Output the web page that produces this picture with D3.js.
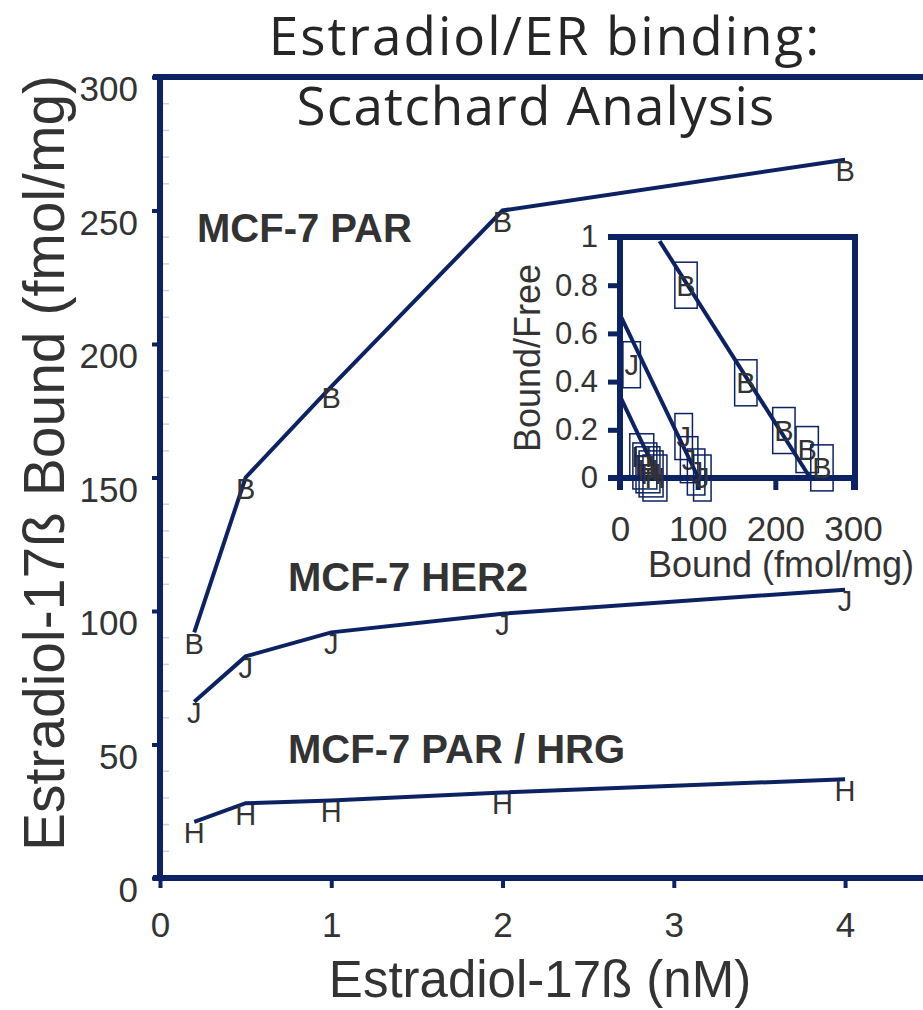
<!DOCTYPE html>
<meta charset="utf-8">
<style>
  body { margin: 0; background: #fff; }
  svg text { font-family: "Liberation Sans", Arial, sans-serif; fill: #333; }
</style>
<body></body>
<script src="https://cdnjs.cloudflare.com/ajax/libs/d3/7.8.5/d3.min.js"></script>
<script>
// main plot: bound vs concentration
const conc = [0.2, 0.5, 1, 2, 4];
const parBound = [92, 150, 184, 250, 269];
const her2Bound = [66, 83, 92, 99, 108];
const hrgBound = [21, 28, 29, 32, 37];
const yTicks = [0, 50, 100, 150, 200, 250, 300];
const xTicks = [0, 1, 2, 3, 4];

// inset: scatchard points (bound, bound/free)
const parScatX = [85, 162, 211, 241, 260];
const parScatY = [0.80, 0.395, 0.197, 0.118, 0.042];
const her2ScatX = [15, 82, 89, 98, 106];
const her2ScatY = [0.47, 0.172, 0.076, 0.025, 0.0];
const hrgScatX = [28, 32, 36, 40, 45];
const hrgScatY = [0.088, 0.05, 0.034, 0.017, 0.0];
// fitted lines, two end points each
const parFitX = [51, 245], parFitY = [0.983, 0.0];
const her2FitX = [0, 101], her2FitY = [0.678, 0.0];
const hrgFitX = [0, 50], hrgFitY = [0.34, 0.0];
const insetXTicks = [0, 100, 200, 300];
const insetYTicks = [0, 0.2, 0.4, 0.6, 0.8, 1];

const navy = "#0c2262";
const width = 923, height = 1010;

const svg = d3.select("body").append("svg")
    .attr("width", width)
    .attr("height", height);

const x = d3.scaleLinear().domain([0, 4.455]).range([160, 923]);
const y = d3.scaleLinear().domain([0, 300]).range([878, 77]);

// title
svg.append("text")
    .attr("x", 545).attr("y", 55)
    .attr("text-anchor", "middle")
    .style("font-family", "'Open Sans', Lato, sans-serif")
    .style("fill", "#262626")
    .style("letter-spacing", "2px")
    .attr("font-size", 53)
    .text("Estradiol/ER binding:");
svg.append("text")
    .attr("x", 536).attr("y", 125)
    .attr("text-anchor", "middle")
    .style("font-family", "'Open Sans', Lato, sans-serif")
    .style("fill", "#262626")
    .style("letter-spacing", "1.2px")
    .attr("font-size", 53)
    .text("Scatchard Analysis");

// faint minor ticks inside the left axis
svg.append("g")
  .selectAll("line")
  .data(d3.range(10, 300, 10).filter(v => v % 50))
  .join("line")
    .attr("x1", 162).attr("x2", 169)
    .attr("y1", d => y(d)).attr("y2", d => y(d))
    .attr("stroke", "#cdd2e2").attr("stroke-width", 1.5);

// frame
const frame = svg.append("g").attr("stroke", navy).attr("stroke-width", 6).attr("fill", "none");
frame.append("line").attr("x1", x(0)).attr("x2", x(0)).attr("y1", y(300) - 3).attr("y2", y(0) + 3);
frame.append("line").attr("x1", x(0) - 7).attr("x2", width).attr("y1", y(300)).attr("y2", y(300));
frame.append("line").attr("x1", x(0) - 7).attr("x2", width).attr("y1", y(0)).attr("y2", y(0));

// y axis
const yAxis = svg.append("g")
    .attr("transform", `translate(${x(0)},0)`)
    .call(d3.axisLeft(y).tickValues(yTicks).tickSize(8).tickPadding(14));
yAxis.select(".domain").remove();
yAxis.selectAll(".tick line").attr("stroke", navy).attr("stroke-width", 4);
yAxis.selectAll(".tick text")
    .attr("font-size", 35).attr("dy", "0.68em")
    .style("font-family", "'Liberation Sans', Arial, sans-serif").style("fill", "#333");

// x axis
const xAxis = svg.append("g")
    .attr("transform", `translate(0,${y(0)})`)
    .call(d3.axisBottom(x).tickValues(xTicks).tickFormat(d3.format("d")).tickSize(10).tickPadding(24));
xAxis.select(".domain").remove();
xAxis.selectAll(".tick line").attr("stroke", navy).attr("stroke-width", 4);
xAxis.selectAll(".tick text")
    .attr("font-size", 35)
    .style("font-family", "'Liberation Sans', Arial, sans-serif").style("fill", "#333");

// axis titles
svg.append("text")
    .attr("x", 540).attr("y", 997)
    .attr("text-anchor", "middle")
    .attr("font-size", 51)
    .text("Estradiol-17ß (nM)");
svg.append("text")
    .attr("transform", "translate(64,463) rotate(-90)")
    .attr("text-anchor", "middle")
    .attr("font-size", 57)
    .text("Estradiol-17ß Bound (fmol/mg)");

// series
const series = [
  {label: "MCF-7 PAR", sym: "B", values: parBound, lx: 197, ly: 242},
  {label: "MCF-7 HER2", sym: "J", values: her2Bound, lx: 288, ly: 591},
  {label: "MCF-7 PAR / HRG", sym: "H", values: hrgBound, lx: 288, ly: 763}
];

const line = d3.line().x(d => x(d[0])).y(d => y(d[1]));

series.forEach(s => {
  const pts = conc.map((c, i) => [c, s.values[i]]);
  svg.append("path")
      .datum(pts)
      .attr("d", line)
      .attr("fill", "none")
      .attr("stroke", navy)
      .attr("stroke-width", 4);
  svg.append("g")
    .selectAll("text")
    .data(pts)
    .join("text")
      .attr("x", d => x(d[0]))
      .attr("y", d => y(d[1]))
      .attr("dy", "0.74em")
      .attr("text-anchor", "middle")
      .attr("font-size", 29)
      .text(s.sym);
  svg.append("text")
      .attr("x", s.lx).attr("y", s.ly)
      .attr("font-size", 40)
      .attr("font-weight", "bold")
      .text(s.label);
});

// ---- inset scatchard plot ----
const xi = d3.scaleLinear().domain([0, 300]).range([620, 853]);
const yi = d3.scaleLinear().domain([0, 1]).range([478, 237]);

const inset = svg.append("g");
const iframe = inset.append("g").attr("stroke", navy).attr("stroke-width", 6).attr("fill", "none");
iframe.append("line").attr("x1", xi(0)).attr("x2", xi(0)).attr("y1", yi(1) - 3).attr("y2", yi(0) + 12);
iframe.append("line").attr("x1", 855).attr("x2", 855).attr("y1", yi(1) - 3).attr("y2", yi(0) + 12);
iframe.append("line").attr("x1", xi(0) - 12).attr("x2", 858).attr("y1", yi(1)).attr("y2", yi(1));
iframe.append("line").attr("x1", xi(0) - 12).attr("x2", 858).attr("y1", yi(0)).attr("y2", yi(0));

const iy = inset.append("g")
    .attr("transform", `translate(${xi(0)},0)`)
    .call(d3.axisLeft(yi).tickValues(insetYTicks).tickSize(12).tickPadding(10).tickFormat(d3.format("")));
iy.select(".domain").remove();
iy.selectAll(".tick line").attr("stroke", navy).attr("stroke-width", 5);
iy.selectAll(".tick text").attr("font-size", 31)
    .style("font-family", "'Liberation Sans', Arial, sans-serif").style("fill", "#333");

const ix = inset.append("g")
    .attr("transform", `translate(0,${yi(0)})`)
    .call(d3.axisBottom(xi).tickValues(insetXTicks).tickSize(12).tickPadding(26));
ix.select(".domain").remove();
ix.selectAll(".tick line").attr("stroke", navy).attr("stroke-width", 5);
ix.selectAll(".tick text").attr("font-size", 35)
    .style("font-family", "'Liberation Sans', Arial, sans-serif").style("fill", "#333");

inset.append("text")
    .attr("x", 781).attr("y", 577)
    .attr("text-anchor", "middle")
    .attr("font-size", 36)
    .text("Bound (fmol/mg)");
inset.append("text")
    .attr("transform", "translate(540,358) rotate(-90)")
    .attr("text-anchor", "middle")
    .attr("font-size", 36)
    .text("Bound/Free");

const scat = [
  {sym: "B", xs: parScatX, ys: parScatY, fx: parFitX, fy: parFitY},
  {sym: "J", xs: her2ScatX, ys: her2ScatY, fx: her2FitX, fy: her2FitY},
  {sym: "H", xs: hrgScatX, ys: hrgScatY, fx: hrgFitX, fy: hrgFitY}
];

const iline = d3.line().x(d => xi(d[0])).y(d => yi(d[1]));

scat.forEach(s => {
  inset.append("path")
      .datum(s.fx.map((v, i) => [v, s.fy[i]]))
      .attr("d", iline)
      .attr("fill", "none")
      .attr("stroke", navy)
      .attr("stroke-width", 4);
  const g = inset.append("g")
    .selectAll("g")
    .data(s.xs.map((v, i) => [v, s.ys[i]]))
    .join("g")
      .attr("transform", d => `translate(${xi(d[0])},${yi(d[1])})`);
  g.append("text")
      .attr("text-anchor", "middle")
      .attr("dy", "0.36em")
      .attr("font-size", 29)
      .text(s.sym);
  g.each(function() {
    const w = d3.select(this).select("text").node().getComputedTextLength() + 3;
    d3.select(this).append("rect")
        .attr("x", -w / 2).attr("y", -23)
        .attr("width", w).attr("height", 46)
        .attr("fill", "none")
        .attr("stroke", navy)
        .attr("stroke-width", 1.5);
  });
});
</script>
